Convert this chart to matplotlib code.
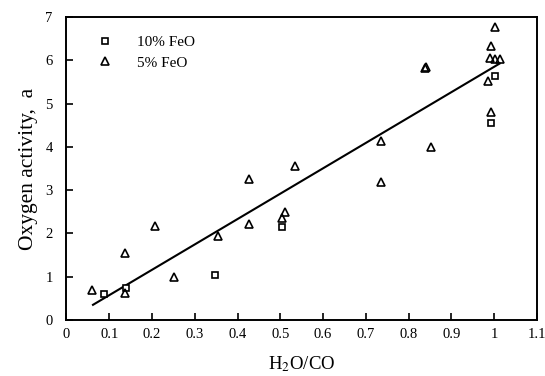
import matplotlib
matplotlib.use("Agg")
import matplotlib.pyplot as plt
import numpy as np

plt.rcParams['font.family'] = ['Liberation Serif', 'DejaVu Serif']
plt.rcParams['mathtext.fontset'] = 'stix'

# 10% FeO (squares)
x10 = [0.088, 0.140, 0.347, 0.504, 0.992, 1.003]
y10 = [0.60, 0.75, 1.04, 2.15, 4.54, 5.63]
# 5% FeO (triangles)
x5 = [0.060, 0.138, 0.138, 0.206, 0.252, 0.355, 0.426, 0.427, 0.505, 0.511,
      0.535, 0.735, 0.736, 0.838, 0.840, 0.853, 0.985, 0.990, 0.992, 0.992,
      1.002, 1.003, 1.015]
y5 = [0.69, 1.54, 0.63, 2.18, 1.00, 1.93, 3.26, 2.21, 2.35, 2.50,
      3.55, 4.13, 3.19, 5.82, 5.85, 3.99, 5.51, 6.06, 6.33, 4.80,
      6.76, 6.03, 6.02]
# Fitted line
fit_slope = 5.86
fit_intercept = -0.013
fit_x = [0.062, 1.013]

xticks = [0, 0.1, 0.2, 0.3, 0.4, 0.5, 0.6, 0.7, 0.8, 0.9, 1, 1.1]
xticklabels = ['0', '0.1', '0.2', '0.3', '0.4', '0.5', '0.6', '0.7', '0.8', '0.9', '1', '1.1']
yticks = [0, 1, 2, 3, 4, 5, 6, 7]

fig = plt.figure(figsize=(5.45, 3.76), dpi=100)
ax = fig.add_axes([0.122, 0.149, 0.863, 0.806])

lx = np.array(fit_x)
ax.plot(lx, fit_slope * lx + fit_intercept, color='black', lw=1.5)
ax.plot(x10, y10, linestyle='none', marker='s', ms=5, mfc='white', mec='black', mew=1.2,
        label='10% FeO')
ax.plot(x5, y5, linestyle='none', marker='^', ms=6, mfc='none', mec='black', mew=1.2,
        label='5% FeO')

ax.set_xlim(0, 1.1)
ax.set_ylim(0, 7)
ax.set_xticks(xticks)
ax.set_xticklabels(xticklabels)
ax.set_yticks(yticks)
ax.tick_params(direction='in', length=5, width=1.2, labelsize=10.5, top=False, right=False)
ax.tick_params(axis='x', pad=6)
ax.tick_params(axis='y', pad=10)
for s in ax.spines.values():
    s.set_linewidth(1.4)

ax.set_xlabel(r'H$_2$O/CO', fontsize=13.5, labelpad=9)
ax.set_ylabel('Oxygen activity,  a', fontsize=15.5, labelpad=5)

leg = ax.legend(loc='upper left', frameon=False, fontsize=11, handletextpad=1.1,
                borderaxespad=0.8, labelspacing=0.45, bbox_to_anchor=(0.01, 1.0))

fig.savefig('out.png', dpi=100)
